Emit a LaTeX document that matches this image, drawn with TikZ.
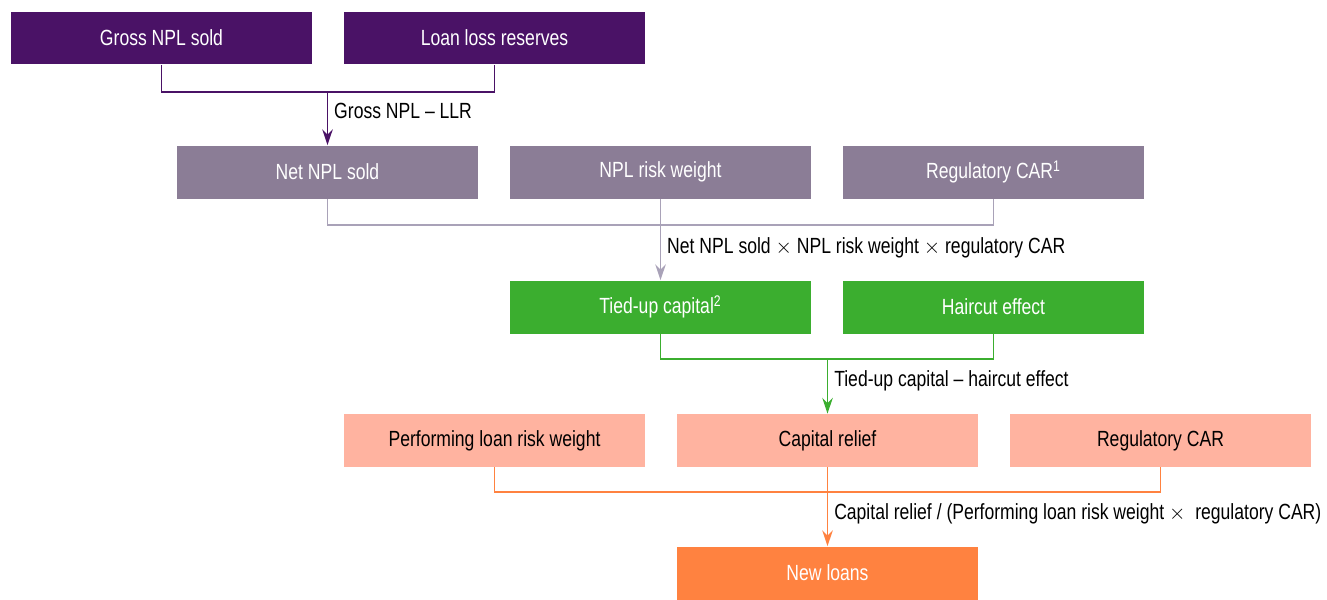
\documentclass[tikz,border=0pt]{standalone}
\usepackage{fontspec}
\setmainfont{Liberation Sans}[FakeStretch=0.8]
\usetikzlibrary{arrows.meta}
\definecolor{plum}{HTML}{4A1266}
\definecolor{mauve}{HTML}{8B7D96}
\definecolor{mauveline}{HTML}{A9A2B8}
\definecolor{leaf}{HTML}{3BAE2F}
\definecolor{salmon}{HTML}{FFB3A0}
\definecolor{tangerine}{HTML}{FF8240}
\begin{document}
\begin{tikzpicture}[
    x=0.02cm, y=-0.02cm,
    box/.style={rectangle, minimum width=6.02cm, minimum height=1.06cm, inner sep=0pt, font=\fontsize{12.5}{14}\selectfont, text=white},
    link/.style={line width=1pt},
    flow/.style={line width=1pt, -{Stealth[length=9pt, width=6pt, inset=3pt]}},
    formula/.style={anchor=west, font=\fontsize{12.5}{14}\selectfont}
]
    \useasboundingbox (0,0) rectangle (1327,599);

    % Level 1
    \node[box, fill=plum] (gross) at (161.5,38) {Gross NPL sold};
    \node[box, fill=plum] (llr) at (494.5,38) {Loan loss reserves};

    % Level 2
    \node[box, fill=mauve] (net) at (327.5,172) {Net NPL sold};
    \node[box, fill=mauve] (nplrw) at (660.5,172) {NPL risk weight};
    \node[box, fill=mauve] (car) at (993.5,172) {Regulatory CAR\textsuperscript{1}};

    % Level 3
    \node[box, fill=leaf] (tied) at (660.5,307) {Tied-up capital\textsuperscript{2}};
    \node[box, fill=leaf] (haircut) at (993.5,307) {Haircut effect};

    % Level 4
    \node[box, fill=salmon, text=black] (plrw) at (494.5,440.5) {Performing loan risk weight};
    \node[box, fill=salmon, text=black] (relief) at (827.5,440.5) {Capital relief};
    \node[box, fill=salmon, text=black] (regcar) at (1160.5,440.5) {Regulatory CAR};

    % Level 5
    \node[box, fill=tangerine] (newloans) at (827.5,573) {New loans};

    % Junctions
    \coordinate (j1) at (327.5,92);
    \coordinate (j2) at (660.5,225);
    \coordinate (j3) at (827.5,359);
    \coordinate (j4) at (827.5,492);

    % Connectors
    \draw[link, plum] (gross.south) |- (j1) -| (llr.south);
    \draw[flow, plum] (j1) -- node[formula, text=black, pos=0.35] {Gross NPL -- LLR} (net.north);

    \draw[link, mauveline] (net.south) |- (j2) -| (car.south);
    \draw[link, mauveline] (nplrw.south) -- (j2);
    \draw[flow, mauveline] (j2) -- node[formula, text=black, pos=0.42] {Net NPL sold $\times$ NPL risk weight $\times$ regulatory CAR} (tied.north);

    \draw[link, leaf] (tied.south) |- (j3) -| (haircut.south);
    \draw[flow, leaf] (j3) -- node[formula, text=black, pos=0.4] {Tied-up capital -- haircut effect} (relief.north);

    \draw[link, tangerine] (plrw.south) |- (j4) -| (regcar.south);
    \draw[link, tangerine] (relief.south) -- (j4);
    \draw[flow, tangerine] (j4) -- node[formula, text=black, pos=0.4] {Capital relief / (Performing loan risk weight $\times$\ \ regulatory CAR)} (newloans.north);

\end{tikzpicture}
\end{document}
